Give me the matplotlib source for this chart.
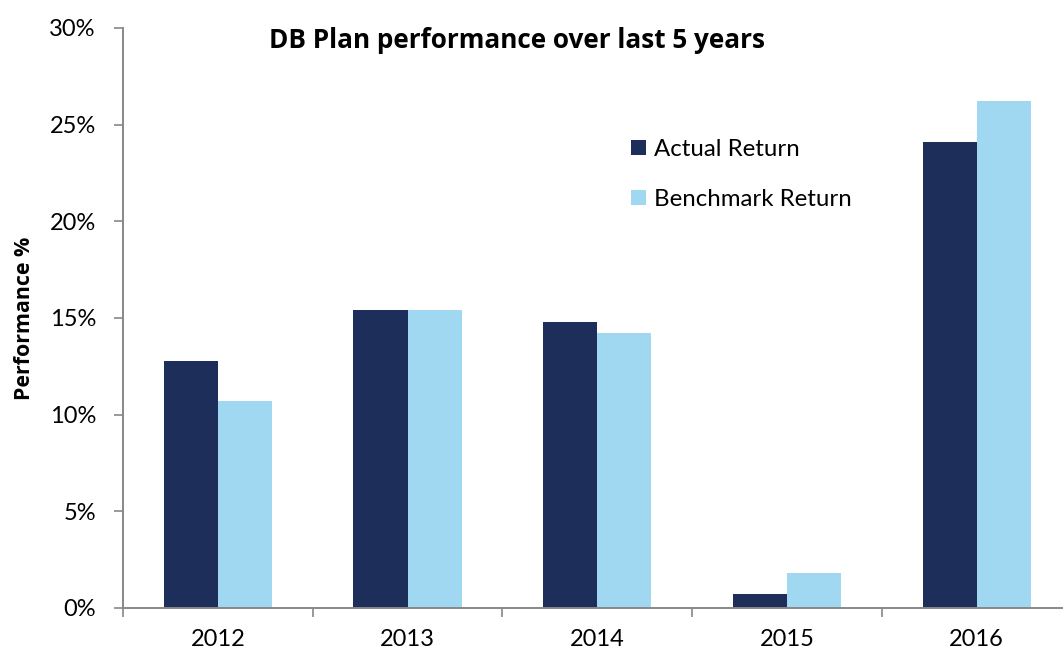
import matplotlib
matplotlib.use("Agg")
import matplotlib.pyplot as plt
import numpy as np
from matplotlib.ticker import FuncFormatter, FixedLocator

years = ["2012", "2013", "2014", "2015", "2016"]
actual = [12.8, 15.4, 14.8, 0.7, 24.1]
benchmark = [10.7, 15.4, 14.2, 1.8, 26.2]
yticks = [0, 5, 10, 15, 20, 25, 30]

plt.rcParams['font.family'] = ['Lato', 'DejaVu Sans']

fig = plt.figure(figsize=(10.63, 6.56), dpi=100)
ax = fig.add_axes([123/1063, 48/656, 940/1063, 580/656])

x = np.arange(len(years))
w = 0.285
c_act = "#1D2E5A"
c_ben = "#A0D7F1"
ax.bar(x - w/2, actual, w, color=c_act, label="Actual Return")
ax.bar(x + w/2, benchmark, w, color=c_ben, label="Benchmark Return")

ax.set_xlim(-0.5, -0.5 + 940/189.7)
ax.set_ylim(0, 30)
ax.set_yticks(yticks)
ax.yaxis.set_major_formatter(FuncFormatter(lambda v, p: f"{int(v)}%"))
ax.tick_params(axis='y', labelsize=17, length=6.5, width=1.2, color="#888888", pad=13)

ax.set_xticks(x)
ax.set_xticklabels(years)
ax.xaxis.set_minor_locator(FixedLocator(np.arange(-0.5, 5, 1.0)))
ax.tick_params(axis='x', which='major', length=0, labelsize=17, pad=15)
ax.tick_params(axis='x', which='minor', length=6.5, width=1.2, color="#888888", direction='out')

for s in ['top', 'right']:
    ax.spines[s].set_visible(False)
for s in ['left', 'bottom']:
    ax.spines[s].set_color("#888888")
    ax.spines[s].set_linewidth(1.4)

bold_fam = ['Open Sans', 'DejaVu Sans']
fig.text(25/1063, 1 - 318/656, "Performance %", rotation=90, fontsize=15.4,
         fontweight='bold', family=bold_fam, ha='center', va='center')
fig.text(517/1063, 1 - 40/656, "DB Plan performance over last 5 years", fontsize=18.8,
         fontweight='bold', family=bold_fam, ha='center', va='center')

ax.legend(loc='upper left', bbox_to_anchor=(631/1063, 1 - 139/656),
          bbox_transform=fig.transFigure, frameon=False, fontsize=17.3,
          handlelength=0.62, handleheight=0.62, handletextpad=0.35, labelspacing=1.2,
          borderaxespad=0, borderpad=0)

fig.savefig("out.png", dpi=100)
